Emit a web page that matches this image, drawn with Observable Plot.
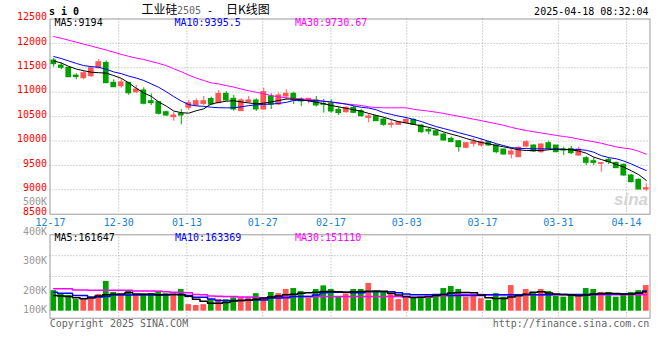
<!DOCTYPE html>
<html><head><meta charset="utf-8">
<script src="https://cdn.jsdelivr.net/npm/d3@7"></script>
<script src="https://cdn.jsdelivr.net/npm/@observablehq/plot@0.6"></script>
<style>
body{margin:0;background:#fff;}
#wrap{position:relative;width:660px;height:360px;overflow:hidden;background:#fff;}
#wrap svg{position:absolute;left:0;}
.t{position:absolute;white-space:pre;font-family:"DejaVu Sans Mono",monospace;font-size:10px;line-height:10px;}
.cjk{position:absolute;white-space:pre;font-family:"Noto Sans CJK SC",sans-serif;font-size:12px;line-height:12px;}
</style></head><body><div id="wrap"></div>
<script>
// ---------- data ----------
const dates = ["12-17","12-18","12-19","12-20","12-23","12-24","12-25","12-26","12-27","12-30",
 "12-31","01-02","01-03","01-06","01-07","01-08","01-09","01-10","01-13","01-14",
 "01-15","01-16","01-17","01-20","01-21","01-22","01-23","01-24","01-27","02-05",
 "02-06","02-07","02-10","02-11","02-12","02-13","02-14","02-17","02-18","02-19",
 "02-20","02-21","02-24","02-25","02-26","02-27","02-28","03-03","03-04","03-05",
 "03-06","03-07","03-10","03-11","03-12","03-13","03-14","03-17","03-18","03-19",
 "03-20","03-21","03-24","03-25","03-26","03-27","03-28","03-31","04-01","04-02",
 "04-03","04-07","04-08","04-09","04-10","04-11","04-14","04-15","04-16","04-17"];
const open = [11650,11546,11500,11340,11287,11328,11492,11600,11192,11123,
 11192,11000,11035,10816,10795,10590,10488,10557,10680,10727,
 10760,10860,10776,10967,10865,10612,10796,10831,10646,10912,
 10749,10912,10967,10851,10831,10831,10762,10762,10639,10590,
 10680,10611,10474,10508,10440,10331,10331,10365,10433,10317,
 10228,10201,10133,10044,9996,9860,9942,9908,9976,9907,
 9825,9723,9668,9887,9907,9771,9955,9907,9825,9839,
 9702,9648,9586,9531,9613,9552,9511,9293,9204,9006];
const high = [11690,11600,11510,11377,11424,11527,11670,11640,11254,11260,
 11200,11137,11090,10966,10800,10610,10590,10645,10830,10864,
 10912,10900,11035,11015,10933,10865,10912,10865,11083,10967,
 10981,11049,11001,10885,10865,10912,10851,10845,10694,10700,
 10710,10645,10556,10522,10468,10420,10400,10488,10454,10331,
 10263,10215,10160,10078,9996,9955,10058,10044,9990,9921,
 9835,9839,9880,10009,9921,9941,9996,9907,9873,9887,
 9873,9682,9654,9559,9654,9566,9531,9313,9224,9122];
const low = [11512,11460,11300,11254,11254,11300,11480,11180,11100,11082,
 10937,10966,10741,10727,10530,10505,10405,10331,10625,10707,
 10727,10720,10762,10810,10612,10605,10776,10605,10640,10646,
 10728,10831,10749,10708,10762,10694,10571,10571,10523,10570,
 10560,10488,10372,10400,10300,10263,10317,10352,10317,10160,
 10126,10099,9996,9976,9771,9840,9873,9873,9894,9737,
 9710,9634,9668,9860,9770,9750,9825,9757,9702,9723,
 9689,9497,9497,9361,9518,9443,9279,9142,9006,8971];
const close = [11575,11500,11307,11310,11389,11492,11615,11184,11102,11200,
 10978,11055,10762,10775,10557,10522,10522,10522,10775,10816,
 10816,10745,10967,10831,10646,10831,10831,10646,11001,10742,
 10933,10967,10831,10810,10865,10728,10742,10605,10571,10680,
 10577,10508,10502,10406,10331,10352,10386,10433,10331,10181,
 10194,10112,10010,9976,9873,9955,9976,9976,9908,9771,
 9723,9784,9859,9975,9784,9928,9839,9771,9805,9750,
 9825,9552,9552,9545,9566,9443,9293,9156,9006,9033];
const ma5 = [11640,11600,11530,11475,11440,11410,11400,11390,11340,11285,
 11190,11080,10985,10915,10800,10715,10615,10580,10570,10620,
 10660,10760,10790,10815,10825,10800,10780,10762,10775,10800,
 10830,10860,10860,10845,10820,10795,10765,10727,10700,10670,
 10640,10610,10565,10525,10487,10440,10395,10370,10340,10310,
 10280,10240,10185,10140,10100,10050,10010,9970,9940,9910,
 9880,9850,9820,9805,9805,9805,9820,9838,9830,9819,
 9795,9750,9670,9620,9575,9520,9465,9390,9310,9194];
const ma10 = [11730,11690,11640,11590,11545,11525,11510,11470,11415,11380,
 11330,11290,11240,11170,11100,11010,10910,10820,10745,10720,
 10710,10692,10682,10680,10680,10700,10725,10740,10750,10758,
 10770,10792,10830,10835,10830,10825,10815,10800,10780,10755,
 10720,10690,10675,10640,10580,10545,10510,10480,10440,10400,
 10345,10295,10255,10215,10170,10130,10088,10042,9995,9945,
 9905,9865,9850,9845,9840,9840,9838,9830,9825,9825,
 9825,9810,9770,9700,9660,9636,9590,9530,9460,9395.5];
const ma30 = [12140,12105,12065,12025,11985,11945,11905,11865,11820,11775,
 11735,11700,11670,11630,11590,11545,11480,11420,11350,11290,
 11240,11190,11170,11135,11105,11065,11030,10998,10970,10930,
 10905,10885,10872,10862,10850,10835,10815,10795,10775,10758,
 10745,10727,10700,10685,10680,10680,10680,10680,10650,10630,
 10612,10590,10565,10535,10505,10478,10447,10418,10385,10355,
 10320,10280,10245,10215,10190,10165,10140,10115,10092,10070,
 10040,10010,9985,9955,9915,9880,9855,9835,9790,9730.67];
// volume in thousands of lots
const volume = [165,154,149,135,135,137,152,196,159,149,
 162,149,154,154,163,154,154,169,118,115,
 118,135,135,134,141,141,141,155,141,159,
 155,169,172,162,140,169,181,169,145,154,
 169,169,189,160,162,152,135,146,141,143,
 141,150,172,179,169,143,145,138,132,155,
 143,182,145,169,159,169,162,146,143,150,
 145,172,169,159,159,143,154,159,165,182];
const volMa5 = [149,147,145,141,138,140,147,151,153,154,
 159,154,153,154,151,152,152,151,146,136,
 129,123,123,125,130,132,133,136,140,144,
 147,151,153,156,158,160,162,162,161,160,
 161,162,163,164,163,156,150,145,142,143,
 145,149,152,157,159,159,158,150,141,139,
 139,144,148,153,160,161,157,154,152,150,
 148,150,154,155,156,155,154,154,157,161.647];
const volMa10 = [160,156,156,149,149,144,144,145,150,150,
 150,150,150,150,150,150,152,152,149,143,
 143,137,132,132,132,132,134,134,134,140,
 140,141,145,145,145,150,158,160,160,160,
 158,158,161,161,161,161,158,154,151,151,
 151,152,152,149,149,149,149,149,151,151,
 151,151,151,151,151,151,151,152,152,152,
 152,152,152,154,154,154,154,154,156,163.369];
const volMa30 = [171,171,171,167,167,166,166,166,166,166,
 166,164,164,164,163,161,160,159,158,152,
 151,147,146,145,145,144,144,142,141,143,
 143,145,145,145,145,145,145,145,145,145,
 145,145,145,145,145,145,145,143,143,143,
 143,148,148,149,152,152,152,152,151,151,
 151,151,151,151,151,151,151,151,151,151,
 151,151,151,151,151,151,151,151,151,151.11];
const priceTicks = [8500,9000,9500,10000,10500,11000,11500,12000,12500];
const dateTicks = ["12-17","12-30","01-13","01-27","02-17","03-03","03-17","03-31","04-14"];
const volTickValues = [100000,200000,300000,400000,500000];
const volTickLabels = ["100K","200K","300K","400K","500K"];

// ---------- styling ----------
const RED = "#ff5555", GREEN = "#00a000", GRID = "#a8a8a8", FRAME = "#999";
const MONO = "DejaVu Sans Mono";
const VOL_BASE = 96000;
const rows = d3.range(dates.length).map(i => ({
  i, o: open[i], h: high[i], l: low[i], c: close[i], v: volume[i] * 1000,
  m5: ma5[i], m10: ma10[i], m30: ma30[i],
  vm5: volMa5[i] * 1000, vm10: volMa10[i] * 1000, vm30: volMa30[i] * 1000,
  col: close[i] >= open[i] ? RED : GREEN
}));
// sina places its date grid on a slightly wider pitch than the candles
const gridPos = d => (50 + 7.58 * dates.indexOf(d) - 53.25) / 7.5;
const X = {type: "linear", domain: [-0.5, dates.length - 0.5], axis: null};
const HW = 0.38;
const dash = "1,2";

const wrap = document.getElementById("wrap");

const priceChart = Plot.plot({
  width: 660, height: 230, marginLeft: 49.5, marginRight: 10.5, marginTop: 18.5, marginBottom: 16.3,
  style: {background: "transparent", overflow: "visible", fontFamily: MONO},
  x: X, y: {domain: [8500, 12500], axis: null}, color: {type: "identity"},
  marks: [
    Plot.ruleY(priceTicks.slice(1, -1), {stroke: GRID, strokeDasharray: dash}),
    Plot.ruleX(dateTicks.slice(1), {x: gridPos, stroke: GRID, strokeDasharray: dash}),
    Plot.text(["sina"], {frameAnchor: "bottom-right", dx: -2, dy: -9, fill: "#d4d4d4", fontSize: 17, fontWeight: "bold", fontStyle: "italic", fontFamily: "Liberation Sans", textAnchor: "end"}),
    Plot.ruleX(rows, {x: "i", y1: "l", y2: "h", stroke: "col"}),
    Plot.rect(rows, {x1: d => d.i - HW, x2: d => d.i + HW, y1: "o", y2: "c", fill: "col", insetTop: -0.5, insetBottom: -0.5}),
    Plot.line(rows, {x: "i", y: "m30", stroke: "#ff00ff", strokeWidth: 1}),
    Plot.line(rows, {x: "i", y: "m10", stroke: "#0000ff", strokeWidth: 1}),
    Plot.line(rows, {x: "i", y: "m5", stroke: "#000", strokeWidth: 1}),
    Plot.frame({stroke: FRAME}),
    Plot.text(priceTicks, {y: d => d, text: d => String(d), frameAnchor: "left", textAnchor: "end", dx: -3, dy: -2, fill: "#ff0000", fontSize: 10, fontFamily: MONO}),
    Plot.text(dateTicks, {x: gridPos, y: 8500, text: d => d, dy: 8.5, fill: "#1a82d4", fontSize: 10, fontFamily: MONO})
  ]
});
priceChart.style.top = "0px";
wrap.appendChild(priceChart);

const volChart = Plot.plot({
  width: 660, height: 100, marginLeft: 49.5, marginRight: 10.5, marginTop: 4.3, marginBottom: 12.3,
  style: {background: "transparent", overflow: "visible", fontFamily: MONO},
  x: X, y: {domain: [72500, 352400], axis: null}, color: {type: "identity"},
  marks: [
    Plot.ruleY(d3.range(1, 4).map(k => 72500 + k * (352400 - 72500) / 4), {stroke: GRID, strokeDasharray: dash}),
    Plot.ruleX(dateTicks.slice(1), {x: gridPos, stroke: GRID, strokeDasharray: dash}),
    Plot.rect(rows, {x1: d => d.i - HW, x2: d => d.i + HW, y1: VOL_BASE, y2: "v", fill: "col"}),
    Plot.line(rows, {x: "i", y: "vm30", stroke: "#ff00ff", curve: "step"}),
    Plot.line(rows, {x: "i", y: "vm10", stroke: "#0000ff", curve: "step"}),
    Plot.line(rows, {x: "i", y: "vm5", stroke: "#000", curve: "step"}),
    Plot.frame({stroke: FRAME})
  ]
});
volChart.style.top = "230px";
wrap.appendChild(volChart);

// sina's volume axis labels sit on their own (clamped) scale
const volAxis = Plot.plot({
  width: 660, height: 135, marginLeft: 49.5, marginRight: 10.5, marginTop: 11, marginBottom: 16,
  style: {background: "transparent", overflow: "visible", fontFamily: MONO},
  y: {domain: [137600, 500000], clamp: true, axis: null},
  marks: [
    Plot.text(volTickValues, {y: d => d, text: (d, i) => volTickLabels[i], frameAnchor: "left", textAnchor: "end", dx: -3, fill: "#999", fontSize: 10, fontFamily: MONO})
  ]
});
volAxis.style.top = "190px";
wrap.appendChild(volAxis);

// ---------- texts ----------
function txt(s, o) {
  const el = document.createElement("div");
  el.className = o.cls || "t";
  el.textContent = s;
  if (o.left != null) el.style.left = o.left + "px";
  if (o.right != null) el.style.right = o.right + "px";
  el.style.top = o.top + "px";
  el.style.color = o.color || "#000";
  if (o.weight) el.style.fontWeight = o.weight;
  wrap.appendChild(el);
}
txt("s i 0", {left: 49, top: 6.5, weight: "bold"});
txt("工业硅", {cls: "cjk", left: 141.5, top: 3.3});
txt("2505", {left: 177, top: 6.2, color: "#666"});
txt(" -", {left: 201, top: 6.2});
txt("日K线图", {cls: "cjk", left: 226, top: 3.3});
txt("2025-04-18 08:32:04", {right: 11.5, top: 6.5});
txt("MA5:" + ma5[ma5.length - 1], {left: 54.5, top: 18.2});
txt("MA10:" + ma10[ma10.length - 1], {left: 174.5, top: 18.2, color: "#0000ff"});
txt("MA30:" + ma30[ma30.length - 1], {left: 295, top: 18.2, color: "#ff00ff"});
txt("MA5:" + Math.round(volMa5[volMa5.length - 1] * 1000), {left: 54.5, top: 233.2});
txt("MA10:" + Math.round(volMa10[volMa10.length - 1] * 1000), {left: 175, top: 233.2, color: "#0000ff"});
txt("MA30:" + Math.round(volMa30[volMa30.length - 1] * 1000), {left: 295, top: 233.2, color: "#ff00ff"});
txt("Copyright 2025 SINA.COM", {left: 49.7, top: 318.8, color: "#666"});
txt("http://finance.sina.com.cn", {right: 10.7, top: 318.8, color: "#666"});
</script></body></html>
